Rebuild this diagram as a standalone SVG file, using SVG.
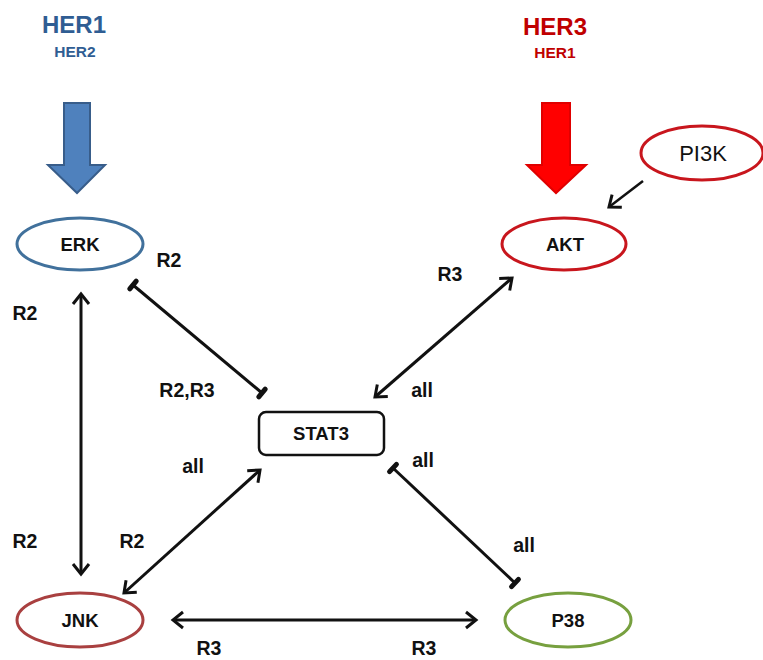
<svg xmlns="http://www.w3.org/2000/svg" width="763" height="660" viewBox="0 0 763 660">
<style>
.t{font-family:"Liberation Sans",Arial,sans-serif;font-weight:bold;font-size:19.5px;fill:#111;text-anchor:middle}
.n{font-family:"Liberation Sans",Arial,sans-serif;font-weight:bold;font-size:18.5px;fill:#111;text-anchor:middle}
.c{fill:none;stroke:#111;stroke-width:3}
.e{fill:#fff;stroke-width:3}
</style>
<defs>
<marker id="arr" markerUnits="userSpaceOnUse" markerWidth="30" markerHeight="30" orient="auto-start-reverse" overflow="visible">
<path d="M-10,-8 L0,0 L-10,8" fill="none" stroke="#111" stroke-width="3"/>
</marker>
<marker id="bar" markerUnits="userSpaceOnUse" markerWidth="30" markerHeight="30" orient="auto-start-reverse" overflow="visible">
<path d="M0,-5 L0,5" fill="none" stroke="#111" stroke-width="5" stroke-linecap="round"/>
</marker>
</defs>
<rect width="763" height="660" fill="#fff"/>
<g id="her-left">
<text x="74" y="33" class="t" style="font-size:24px;fill:#2F5D93">HER1</text>
<text x="75" y="57" class="t" style="font-size:15.5px;fill:#2F5D93">HER2</text>
<polygon points="64,103 90,103 90,165 105,165 77,193 48,165 64,165" fill="#4F81BD" stroke="#385D8A" stroke-width="2"/>
</g>
<g id="her-right">
<text x="555" y="35" class="t" style="font-size:24px;fill:#C00000">HER3</text>
<text x="555" y="58" class="t" style="font-size:15.5px;fill:#C00000">HER1</text>
<polygon points="542,103 570,103 570,165 586,165 556,193 527,165 542,165" fill="#FF0000" stroke="#E00000" stroke-width="2"/>
</g>
<g id="connectors">
<line class="c" x1="133" y1="285" x2="262" y2="393" marker-start="url(#bar)" marker-end="url(#bar)"/>
<line class="c" x1="512" y1="278" x2="375" y2="397" marker-start="url(#arr)" marker-end="url(#arr)"/>
<line class="c" x1="81" y1="294" x2="81" y2="574" marker-start="url(#arr)" marker-end="url(#arr)"/>
<line class="c" x1="124" y1="593" x2="260" y2="470" marker-start="url(#arr)" marker-end="url(#arr)"/>
<line class="c" x1="393" y1="468" x2="515" y2="583" marker-start="url(#bar)" marker-end="url(#bar)"/>
<line class="c" x1="173" y1="620" x2="476" y2="620" marker-start="url(#arr)" marker-end="url(#arr)"/>
<line class="c" x1="643" y1="181" x2="609" y2="207" style="stroke-width:2.5" marker-end="url(#arr)"/>
</g>
<g id="ERK">
<ellipse cx="80" cy="244" rx="63" ry="26" class="e" stroke="#41719C"/>
<text x="80" y="251" class="n">ERK</text>
</g>
<g id="AKT">
<ellipse cx="564" cy="244" rx="62" ry="26" class="e" stroke="#C8161D"/>
<text x="565" y="251" class="n">AKT</text>
</g>
<g id="PI3K">
<ellipse cx="702" cy="153" rx="61" ry="27" class="e" stroke="#C8161D" stroke-width="2.5"/>
<text x="703" y="161" class="n" style="font-weight:normal;font-size:22px">PI3K</text>
</g>
<g id="STAT3">
<rect x="259" y="412" width="125" height="43" rx="7" fill="#fff" stroke="#111" stroke-width="2.5"/>
<text x="321" y="440" class="n">STAT3</text>
</g>
<g id="JNK">
<ellipse cx="80" cy="620" rx="63" ry="27" class="e" stroke="#A94040"/>
<text x="80" y="627" class="n">JNK</text>
</g>
<g id="P38">
<ellipse cx="568" cy="620" rx="63" ry="27" class="e" stroke="#77A03F"/>
<text x="568" y="627" class="n">P38</text>
</g>
<g id="labels">
<text x="169" y="267" class="t">R2</text>
<text x="25" y="320" class="t">R2</text>
<text x="450" y="281" class="t">R3</text>
<text x="187" y="397" class="t">R2,R3</text>
<text x="422" y="397" class="t">all</text>
<text x="193" y="473" class="t">all</text>
<text x="423" y="467" class="t">all</text>
<text x="25" y="548" class="t">R2</text>
<text x="132" y="548" class="t">R2</text>
<text x="524" y="552" class="t">all</text>
<text x="209" y="655" class="t">R3</text>
<text x="424" y="655" class="t">R3</text>
</g>
</svg>
